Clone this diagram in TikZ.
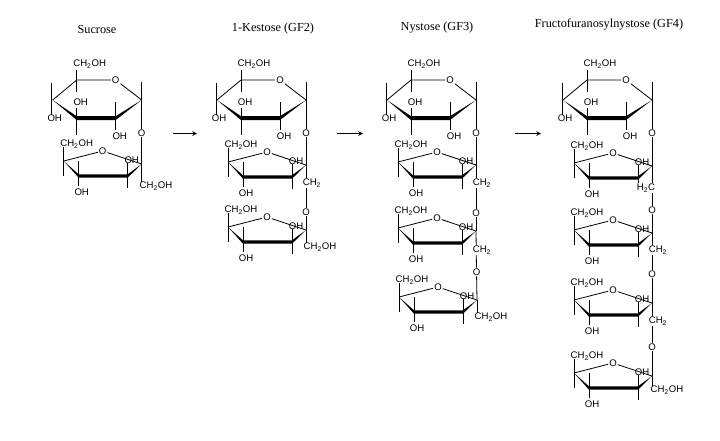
\documentclass[tikz,border=0pt]{standalone}
\usepackage{fontspec}
\setmainfont{Liberation Sans}
\newfontfamily\titlefont{Liberation Serif}
\usepackage{tikz}
\usetikzlibrary{arrows,positioning}

\newcommand{\chtwooh}{CH\textsubscript{2}OH}
\newcommand{\chtwo}{CH\textsubscript{2}}
\newcommand{\htwoc}{H\textsubscript{2}C}

\tikzset{
    chem/.style={inner sep=0pt, font=\fontsize{7.2}{8}\selectfont},
    oxy/.style={chem, inner sep=0.6pt},
    group/.style={chem, fill=white, inner sep=0.5pt},
    title/.style={inner sep=0pt, font=\titlefont\fontsize{9.2}{10}\selectfont},
    bond/.style={line width=0.6pt, black},
    arrow/.style={->, >=stealth, line width=0.6pt},
    pyranose/.pic={
        \coordinate (r) at (0,0);
        \coordinate (br) at (-26,18);
        \coordinate (bl) at (-65,18);
        \coordinate (l) at (-89,0);
        \coordinate (tl) at (-65,-20);
        \node[oxy] (ox) at (-26,-20) {O};
        \node[chem] (top) at (-52,-36) {\chtwooh};
        \node[chem] (hl) at (-87,18) {OH};
        \node[chem] (hm) at (-61,2) {OH};
        \node[chem] (hr) at (-22,36) {OH};
        \draw[bond] (tl) -- (ox) -- (r);
        \draw[bond] (l) -- (tl);
        \fill[black] (l) -- (-65,16.2) -- (-26,16.2) -- (r) -- (-26,20) -- (-65,20) -- cycle;
        \draw[bond] (-65,-30) -- (-65,-8);
        \draw[bond] (-90,-17) -- (-90,15);
        \draw[bond] (bl) -- (-65,8);
        \draw[bond] (bl) -- (-65,35);
        \draw[bond] (-26,2) -- (-26,30);
        \draw[bond] (r) -- (0,-18);
    },
    furanose/.pic={
        \coordinate (r) at (0,0);
        \coordinate (br) at (-14,12);
        \coordinate (bl) at (-63,12);
        \coordinate (l) at (-78,-3);
        \node[oxy] (ox) at (-39,-13) {O};
        \node[chem] (top) at (-65,-20) {\chtwooh};
        \node[chem] (hb) at (-60,28) {OH};
        \node[chem] (hr) at (-10,-4) {OH};
        \draw[bond] (l) -- (ox) -- (r);
        \fill[black] (l) -- (-63,10.3) -- (-14,10.3) -- (r) -- (-14,13.7) -- (-63,13.7) -- cycle;
        \draw[bond] (-78,-17) -- (-78,12);
        \draw[bond] (-63,-3) -- (-63,22);
        \draw[bond] (-14,-1) -- (-14,24);
    }
}

\begin{document}
\begin{tikzpicture}[x=0.75pt, y=-0.75pt]
    \useasboundingbox (0,0) rectangle (720,440);

    % headings
    \node[title] (t1) at (97,29) {Sucrose};
    \node[title] (t2) at (273,29) {1-Kestose (GF2)};
    \node[title] (t3) at (437,27.5) {Nystose (GF3)};
    \node[title] (t4) at (609,25) {Fructofuranosylnystose (GF4)};

    % reaction arrows
    \foreach \n/\xa/\xb in {1/173/197, 2/337/363, 3/515/541} {
        \coordinate (a\n) at (\xa,133.5);
        \coordinate (b\n) at (\xb,133.5);
        \draw[arrow] (a\n) -- (b\n);
    }

    % glucose rings
    \foreach \m/\x in {s/141.7, k/306, n/476, f/652}
        \pic (\m-p-) at (\x,100) {pyranose};

    % fructose rings
    \foreach \m/\k/\x/\y in {s/1/141.7/164, k/1/306/165, k/2/306/230, n/1/476/165, n/2/476/231,
        n/3/477/300, f/1/652/166, f/2/652/233, f/3/652/303, f/4/652/376}
        \pic (\m-\k-) at (\x,\y) {furanose};

    % bridging oxygens
    \node[oxy] (s-o1) at (141.7,133) {O};
    \node[oxy] (k-o1) at (306,133) {O};
    \node[oxy] (k-o2) at (306,212) {O};
    \node[oxy] (n-o1) at (476,133) {O};
    \node[oxy] (n-o2) at (476,213) {O};
    \node[oxy] (n-o3) at (476.5,272) {O};
    \node[oxy] (f-o1) at (652,133) {O};
    \node[oxy] (f-o2) at (652,210) {O};
    \node[oxy] (f-o3) at (652,274) {O};
    \node[oxy] (f-o4) at (652,347) {O};

    \draw[bond] (s-p-r) -- (s-o1);
    \draw[bond] (s-o1) -- (s-1-r);
    \draw[bond] (k-p-r) -- (k-o1);
    \draw[bond] (k-o1) -- (k-1-r);
    \draw[bond] (k-1-r) -- (k-o2);
    \draw[bond] (k-o2) -- (k-2-r);
    \draw[bond] (n-p-r) -- (n-o1);
    \draw[bond] (n-o1) -- (n-1-r);
    \draw[bond] (n-1-r) -- (n-o2);
    \draw[bond] (n-o2) -- (n-2-r);
    \draw[bond] (n-2-r) -- (n-o3);
    \draw[bond] (n-o3) -- (n-3-r);
    \draw[bond] (f-p-r) -- (f-o1);
    \draw[bond] (f-o1) -- (f-1-r);
    \draw[bond] (f-1-r) -- (f-o2);
    \draw[bond] (f-o2) -- (f-2-r);
    \draw[bond] (f-2-r) -- (f-o3);
    \draw[bond] (f-o3) -- (f-3-r);
    \draw[bond] (f-3-r) -- (f-o4);
    \draw[bond] (f-o4) -- (f-4-r);

    % methylene groups sit on top of the chain
    \node[group] (k-c1) at (312,183) {\chtwo};
    \node[group] (n-c1) at (482,183) {\chtwo};
    \node[group] (n-c2) at (482,250) {\chtwo};
    \node[group] (f-c1) at (646,188) {\htwoc};
    \node[group] (f-c2) at (658,250) {\chtwo};
    \node[group] (f-c3) at (658,321) {\chtwo};

    % chain ends
    \node[chem] (s-end) at (156,186) {\chtwooh};
    \node[chem] (k-end) at (320,247) {\chtwooh};
    \node[chem] (n-end) at (491,317) {\chtwooh};
    \node[chem] (f-end) at (667,390) {\chtwooh};

    \draw[bond] (s-1-r) -- (s-1-r |- s-end.north);
    \draw[bond] (k-2-r) -- (k-2-r |- k-end.north);
    \draw[bond] (n-3-r) -- (n-3-r |- n-end.north);
    \draw[bond] (f-4-r) -- (f-4-r |- f-end.north);
\end{tikzpicture}
\end{document}
